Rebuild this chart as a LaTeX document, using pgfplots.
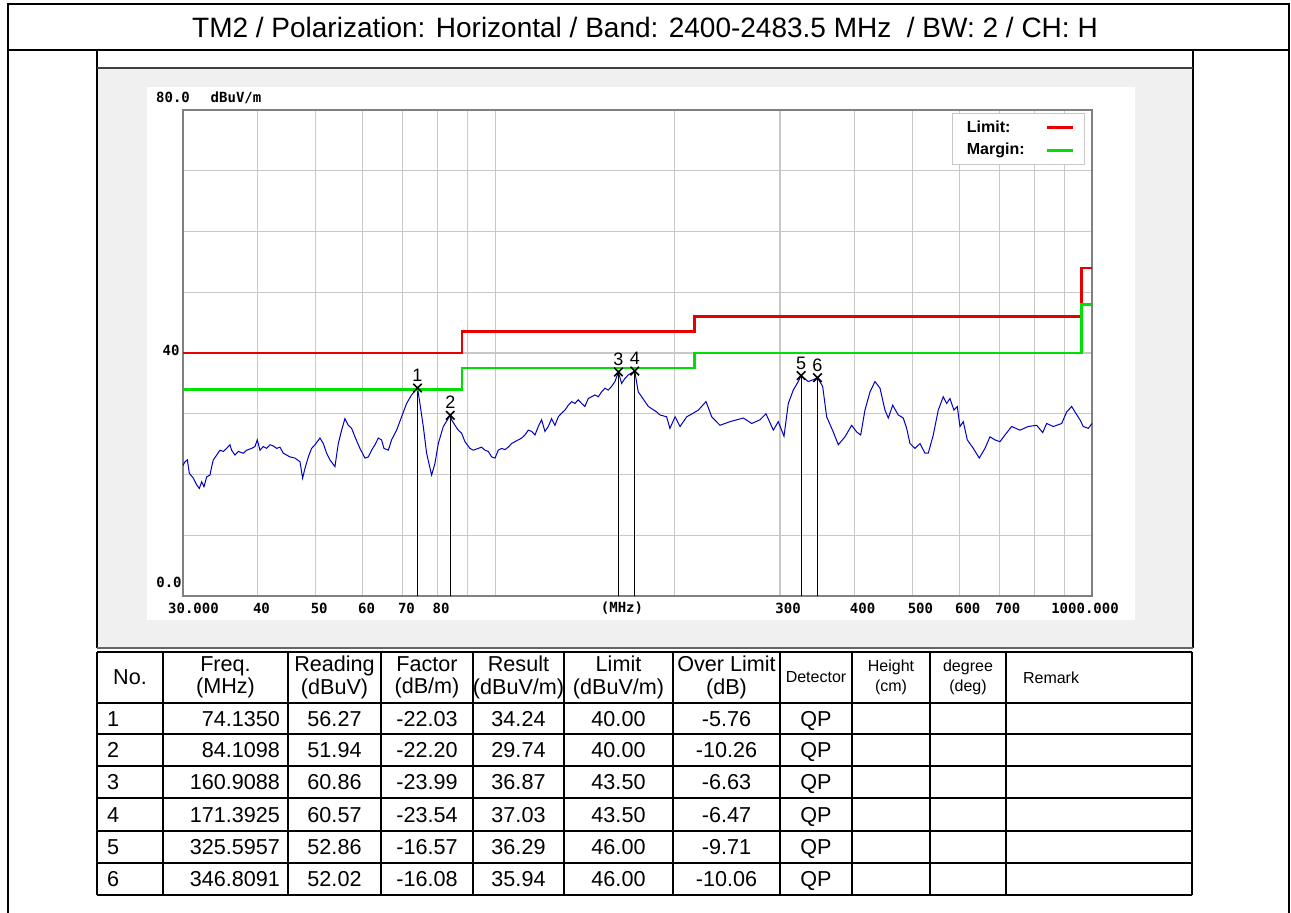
\documentclass[border=0pt]{standalone}
\usepackage{fontspec}
\setmainfont{Liberation Sans}
\newfontfamily\chartfont{DejaVu Sans Mono}
\usepackage{pgfplots}
\usepackage{pgfplotstable}
\pgfplotsset{compat=1.18}
\definecolor{panelgray}{HTML}{F0F0F0}
\definecolor{gridgray}{HTML}{C8C8C8}
\definecolor{framegray}{HTML}{808080}
\definecolor{tracecol}{HTML}{0000C0}
\definecolor{limred}{HTML}{E80000}
\definecolor{margreen}{HTML}{00E000}

\pgfplotstableread{
f v
30.00 21.5
30.23 22.1
30.51 22.4
30.74 20.2
31.22 19.4
31.62 18.3
31.95 17.7
32.24 18.8
32.53 18.0
32.87 19.6
33.29 19.9
33.51 21.3
33.72 22.4
34.16 23.2
34.60 24.0
35.05 23.8
35.50 24.3
35.96 24.9
36.19 24.0
36.66 23.2
37.14 23.8
37.86 23.5
38.35 24.0
39.10 24.3
39.60 24.6
39.96 25.7
40.37 24.0
40.89 24.6
41.42 24.3
41.96 24.9
42.50 24.7
43.05 24.3
43.61 24.5
44.17 23.5
44.74 23.2
45.32 22.9
46.21 22.7
47.11 22.1
47.59 19.4
48.02 21.0
48.65 22.9
49.27 24.3
49.91 24.9
50.36 25.4
50.88 26.0
51.54 25.1
52.21 23.5
52.88 22.4
53.91 21.3
54.61 25.1
55.32 27.3
56.03 29.2
56.76 28.1
57.49 27.6
58.24 26.2
59.37 24.3
60.53 22.7
61.31 22.9
62.10 24.0
62.91 24.9
63.72 26.0
64.54 25.7
65.13 24.3
66.23 24.0
67.08 25.7
68.39 27.3
69.72 29.5
71.08 31.7
72.46 33.1
74.135 34.24
74.83 31.7
75.80 27.9
76.78 23.5
78.28 19.9
79.29 21.8
80.32 25.1
81.88 27.9
84.11 29.74
84.56 29.0
85.65 28.1
86.76 27.3
87.88 26.8
89.02 25.4
90.75 24.3
91.93 24.0
93.71 24.3
94.93 24.5
96.16 24.0
97.40 23.8
98.66 22.9
99.94 22.7
101.23 24.0
102.54 24.3
103.87 24.1
105.21 24.5
106.57 25.1
107.95 25.4
109.35 25.7
110.76 26.0
112.20 26.5
113.65 27.3
115.12 27.1
116.61 26.5
118.12 27.9
119.65 29.0
121.19 27.1
122.76 27.9
124.35 29.2
125.96 28.1
127.59 29.5
129.24 30.1
130.91 30.6
132.61 31.4
134.32 32.0
136.06 31.7
137.82 32.3
139.61 31.7
141.41 31.2
143.24 32.5
145.10 32.8
146.97 33.1
148.87 32.8
150.80 33.6
152.75 34.2
154.73 33.9
156.73 34.5
158.76 35.3
160.91 36.87
162.89 35.0
165.00 35.8
167.14 36.4
171.39 37.03
173.7 33.6
176.0 32.8
180.6 31.2
186.5 30.3
188.9 29.8
193.8 29.5
196.3 27.6
200.2 29.5
204.1 27.9
209.4 29.5
214.8 30.1
219.0 30.6
225.6 32.0
230.6 29.5
238.1 28.1
247.5 28.7
260.5 29.3
269.1 28.4
277.8 29.0
284.3 30.0
292.5 27.3
298.1 28.7
304.8 26.3
309.9 31.7
315.9 33.9
322.0 35.3
325.6 36.29
334.7 35.3
341.2 35.6
346.8 35.94
353.8 34.5
359.3 29.5
368.6 27.0
375.8 24.9
385.6 26.2
395.7 28.1
403.4 27.0
409.7 26.5
416.5 30.6
424.7 33.6
432.9 35.3
441.4 34.2
449.9 30.6
455.7 29.3
463.5 31.4
473.6 29.8
482.8 29.3
489.2 27.6
495.5 25.1
505.1 24.3
515.0 25.1
525.0 23.5
531.7 23.5
542.1 26.5
552.6 30.6
563.4 32.8
570.8 31.7
578.1 32.5
587.1 30.6
594.7 31.2
600.9 27.9
608.6 28.7
618.1 25.7
632.6 24.3
647.3 22.7
661.7 24.3
674.6 26.2
687.8 25.7
701.2 25.4
714.8 26.5
733.5 27.9
757.4 27.3
782.0 27.9
807.8 28.1
826.7 26.9
839.6 28.4
861.2 27.9
889.6 28.4
906.9 30.3
924.6 31.2
936.4 30.3
954.7 29.0
966.9 27.9
985.7 27.6
1000 28.4
}\trace

\pgfplotstableread{
f v
74.1350 34.24
84.1098 29.74
160.9088 36.87
171.3925 37.03
325.5957 36.29
346.8091 35.94
}\markers

\newcommand\tickfont{\chartfont\bfseries\fontsize{7}{8}\selectfont}
\newcommand\tabfont{\fontsize{10.8}{11.3}\selectfont}
\newcommand\smallfont{\fontsize{8}{10}\selectfont}

\begin{document}
\begin{tikzpicture}
\begin{scope}[x=0.5pt,y=-0.5pt]
\path[use as bounding box] (0,0) rectangle (1291,913);
% outer frame and title box
\draw[line width=0.8pt] (8,913) -- (8,4) -- (1289,4) -- (1289,913);
\draw[line width=0.8pt] (8,50) -- (1289,50);
\node[font=\fontsize{14}{16}\selectfont] at (645,28) {TM2 / Polarization: Horizontal / Band: 2400-2483.5 MHz\ \ / BW: 2 / CH: H};
% panel
\fill[panelgray] (97,69) rectangle (1193,648);
\fill[white] (147,87) rectangle (1135,620);
\draw[line width=0.8pt] (97,50) -- (97,648);
\draw[line width=0.8pt] (1193,50) -- (1193,648);
\draw[line width=1.3pt, black!75] (97,68) -- (1193,68);
\draw[line width=0.8pt, black!60] (97,648) -- (1193,648);
\end{scope}

\begin{axis}[
  at={(91.5pt,-298pt)}, anchor=south west,
  scale only axis, width=454.5pt, height=243pt,
  xmode=log, xmin=30, xmax=1000, ymin=0, ymax=80,
  xtick={40,50,60,70,80,90,100,200,300,400,500,600,700,800,900},
  xticklabels={}, ytick={10,20,30,40,50,60,70}, yticklabels={},
  major tick length=0pt, minor tick num=0,
  xminorgrids=false, xmajorgrids=true, ymajorgrids=true,
  major grid style={gridgray, line width=0.6pt},
  axis line style={framegray, line width=1.3pt},
  clip=false,
  legend plot pos=right, legend cell align=left,
  legend style={at={(0.992,0.994)}, anchor=north east, draw=gridgray, line width=0.5pt,
    font=\bfseries\fontsize{8}{9}\selectfont, row sep=0pt, inner xsep=5pt, inner ysep=1.5pt,
    /tikz/every odd column/.append style={column sep=8.5pt}},
  legend image code/.code={\draw[#1] (0pt,0pt) -- (13pt,0pt);},
]
\addplot[tracecol, line width=0.5pt, forget plot] table[x=f, y=v] {\trace};
\addplot[only marks, mark=x, mark size=3pt, black, line width=0.8pt, forget plot] table[x=f, y=v] {\markers};
\addplot[black, line width=0.6pt, forget plot] coordinates {(74.1350,0) (74.1350,34.24)};
\addplot[black, line width=0.6pt, forget plot] coordinates {(84.1098,0) (84.1098,29.74)};
\addplot[black, line width=0.6pt, forget plot] coordinates {(160.9088,0) (160.9088,36.87)};
\addplot[black, line width=0.6pt, forget plot] coordinates {(171.3925,0) (171.3925,37.03)};
\addplot[black, line width=0.6pt, forget plot] coordinates {(325.5957,0) (325.5957,36.29)};
\addplot[black, line width=0.6pt, forget plot] coordinates {(346.8091,0) (346.8091,35.94)};
\addplot[limred, line width=1.3pt] coordinates {(30,40) (88,40) (88,43.5) (216,43.5) (216,46) (960,46) (960,54) (1000,54)};
\addlegendentry{Limit:}
\addplot[margreen, line width=1.3pt] coordinates {(30,34) (88,34) (88,37.5) (216,37.5) (216,40) (960,40) (960,48) (1000,48)};
\addlegendentry{Margin:}
\node[font=\fontsize{9}{9}\selectfont, anchor=base] at (axis cs:74.1350,34.24) [yshift=3.2pt] {1};
\node[font=\fontsize{9}{9}\selectfont, anchor=base] at (axis cs:84.1098,29.74) [yshift=3.2pt] {2};
\node[font=\fontsize{9}{9}\selectfont, anchor=base] at (axis cs:160.9088,36.87) [yshift=3.2pt] {3};
\node[font=\fontsize{9}{9}\selectfont, anchor=base] at (axis cs:171.3925,37.03) [yshift=3.2pt] {4};
\node[font=\fontsize{9}{9}\selectfont, anchor=base] at (axis cs:325.5957,36.29) [yshift=3.2pt] {5};
\node[font=\fontsize{9}{9}\selectfont, anchor=base] at (axis cs:346.8091,35.94) [yshift=3.2pt] {6};
\end{axis}

\begin{scope}[x=0.5pt,y=-0.5pt]
% axis labels
\node[font=\tickfont] at (173,97.5) {80.0};
\node[font=\tickfont] at (236,97.5) {dBuV/m};
\node[font=\tickfont] at (171,350) {40};
\node[font=\tickfont] at (169,582) {0.0};
\node[font=\tickfont] at (193.5,608) {30.000};
\node[font=\tickfont, anchor=west, inner xsep=0pt] at (252.6,608) {40};
\node[font=\tickfont, anchor=west, inner xsep=0pt] at (310.4,608) {50};
\node[font=\tickfont, anchor=west, inner xsep=0pt] at (357.7,608) {60};
\node[font=\tickfont, anchor=west, inner xsep=0pt] at (397.6,608) {70};
\node[font=\tickfont, anchor=west, inner xsep=0pt] at (432.3,608) {80};
\node[font=\tickfont] at (622,608) {(MHz)};
\node[font=\tickfont, anchor=west, inner xsep=0pt] at (775,608) {300};
\node[font=\tickfont, anchor=west, inner xsep=0pt] at (849.5,608) {400};
\node[font=\tickfont, anchor=west, inner xsep=0pt] at (907.4,608) {500};
\node[font=\tickfont, anchor=west, inner xsep=0pt] at (954.7,608) {600};
\node[font=\tickfont, anchor=west, inner xsep=0pt] at (994.6,608) {700};
\node[font=\tickfont] at (1085,608) {1000.000};

% table grid
\foreach \yy in {652,703,734,766,798,831,863,895}
  \draw[line width=1pt] (97,\yy) -- (1192,\yy);
\foreach \xx in {97,163,288,381,473,564,673,780,852,930,1006,1192}
  \draw[line width=1pt] (\xx,652) -- (\xx,895);
% header
\node[font=\tabfont] at (130,677.5) {No.};
\node[font=\tabfont, align=center] at (225.5,677.5) {Freq.\\(MHz)};
\node[font=\tabfont, align=center] at (334.5,677.5) {Reading\\(dBuV)};
\node[font=\tabfont, align=center] at (427,677.5) {Factor\\(dB/m)};
\node[font=\tabfont, align=center] at (518.5,677.5) {Result\\(dBuV/m)};
\node[font=\tabfont, align=center] at (618.5,677.5) {Limit\\(dBuV/m)};
\node[font=\tabfont, align=center] at (726.5,677.5) {Over Limit\\(dB)};
\node[font=\smallfont] at (816,677.5) {Detector};
\node[font=\smallfont, align=center] at (891,677.5) {Height\\(cm)};
\node[font=\smallfont, align=center] at (968,677.5) {degree\\(deg)};
\node[font=\smallfont, anchor=west] at (1016,677.5) {Remark};
\end{scope}
\newcommand\trow[9]{%
  \node[font=\tabfont, anchor=base west] at (50pt,-#1*0.5pt-3.9pt) {#2};
  \node[font=\tabfont, anchor=base east] at (143.5pt,-#1*0.5pt-3.9pt) {#3};
  \node[font=\tabfont, anchor=base] at (167.25pt,-#1*0.5pt-3.9pt) {#4};
  \node[font=\tabfont, anchor=base] at (213.5pt,-#1*0.5pt-3.9pt) {#5};
  \node[font=\tabfont, anchor=base] at (259.25pt,-#1*0.5pt-3.9pt) {#6};
  \node[font=\tabfont, anchor=base] at (309.25pt,-#1*0.5pt-3.9pt) {#7};
  \node[font=\tabfont, anchor=base] at (363.25pt,-#1*0.5pt-3.9pt) {#8};
  \node[font=\tabfont, anchor=base] at (408pt,-#1*0.5pt-3.9pt) {#9};
}
\trow{718.5}{1}{74.1350}{56.27}{-22.03}{34.24}{40.00}{-5.76}{QP}
\trow{750}{2}{84.1098}{51.94}{-22.20}{29.74}{40.00}{-10.26}{QP}
\trow{782}{3}{160.9088}{60.86}{-23.99}{36.87}{43.50}{-6.63}{QP}
\trow{814.5}{4}{171.3925}{60.57}{-23.54}{37.03}{43.50}{-6.47}{QP}
\trow{847}{5}{325.5957}{52.86}{-16.57}{36.29}{46.00}{-9.71}{QP}
\trow{879}{6}{346.8091}{52.02}{-16.08}{35.94}{46.00}{-10.06}{QP}
\end{tikzpicture}
\end{document}
